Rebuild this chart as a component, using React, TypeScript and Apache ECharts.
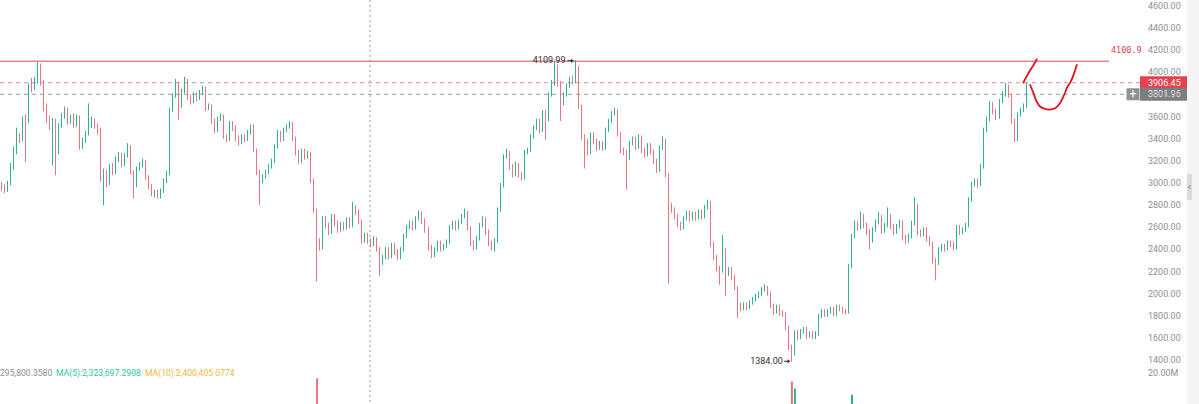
import React, { useEffect, useRef } from "react";
import * as echarts from "echarts";

// Each candle: [open, close, low, high]
const CANDLES: number[][] = [
  [2990, 2960, 2930, 3010], [2960, 2940, 2910, 2990], [2940, 3000, 2920, 3020], [3000, 3150, 2980, 3180], [3150, 3300, 3120, 3330],
  [3300, 3420, 3260, 3500], [3420, 3400, 3360, 3450], [3400, 3580, 3380, 3600], [3580, 3560, 3190, 3620], [3560, 3880, 3540, 3900],
  [3880, 3860, 3820, 3950], [3860, 3920, 3840, 3960], [3920, 4060, 3900, 4094], [4060, 3900, 3880, 4080], [3900, 3700, 3650, 3930],
  [3700, 3580, 3540, 3720], [3580, 3520, 3480, 3610], [3520, 3560, 3160, 3590], [3560, 3380, 3070, 3580], [3380, 3520, 3260, 3540],
  [3520, 3600, 3500, 3630], [3600, 3660, 3580, 3690], [3660, 3560, 3530, 3680], [3560, 3600, 3540, 3620], [3600, 3540, 3500, 3630],
  [3540, 3600, 3510, 3620], [3600, 3340, 3300, 3610], [3340, 3380, 3310, 3410], [3380, 3450, 3360, 3470], [3450, 3540, 3430, 3720],
  [3540, 3560, 3500, 3600], [3560, 3520, 3490, 3580], [3520, 3480, 3440, 3540], [3480, 3050, 3010, 3500], [3050, 3100, 2800, 3130],
  [3100, 3000, 2960, 3120], [3000, 3150, 2980, 3170], [3150, 3100, 3070, 3180], [3100, 3220, 3080, 3240], [3220, 3250, 3190, 3280],
  [3250, 3170, 3140, 3270], [3170, 3250, 3150, 3270], [3250, 3330, 3230, 3360], [3330, 3100, 3080, 3340], [3100, 2980, 2860, 3110],
  [2980, 3130, 2960, 3150], [3130, 3160, 3110, 3190], [3160, 3200, 3140, 3220], [3200, 3050, 3030, 3210], [3050, 2970, 2940, 3070],
  [2970, 2900, 2880, 2990], [2900, 2920, 2870, 2940], [2920, 2880, 2860, 2940], [2880, 2930, 2860, 2950], [2930, 3020, 2910, 3040],
  [3020, 3090, 3000, 3110], [3090, 3660, 3070, 3680], [3660, 3790, 3640, 3810], [3790, 3900, 3770, 3940], [3900, 3700, 3570, 3910],
  [3700, 3830, 3680, 3850], [3830, 3930, 3810, 3960], [3930, 3780, 3750, 3940], [3780, 3740, 3710, 3800], [3740, 3800, 3720, 3820],
  [3800, 3770, 3740, 3820], [3770, 3820, 3750, 3840], [3820, 3860, 3800, 3880], [3860, 3680, 3650, 3870], [3680, 3700, 3660, 3720],
  [3700, 3560, 3530, 3710], [3560, 3480, 3450, 3580], [3480, 3580, 3460, 3600], [3580, 3610, 3560, 3630], [3610, 3420, 3400, 3620],
  [3420, 3400, 3370, 3440], [3400, 3540, 3380, 3560], [3540, 3500, 3470, 3560], [3500, 3410, 3380, 3520], [3410, 3370, 3340, 3430],
  [3370, 3420, 3350, 3440], [3420, 3400, 3370, 3440], [3400, 3460, 3380, 3480], [3460, 3520, 3440, 3530], [3520, 3300, 3280, 3530],
  [3300, 3100, 3070, 3310], [3100, 3020, 2800, 3120], [3020, 3060, 3000, 3080], [3060, 3100, 3040, 3120], [3100, 3150, 3080, 3170],
  [3150, 3200, 3130, 3220], [3200, 3330, 3180, 3350], [3330, 3450, 3310, 3480], [3450, 3400, 3370, 3470], [3400, 3480, 3380, 3500],
  [3480, 3510, 3460, 3530], [3510, 3540, 3490, 3560], [3540, 3400, 3380, 3550], [3400, 3280, 3250, 3420], [3280, 3200, 3170, 3300],
  [3200, 3290, 3180, 3310], [3290, 3240, 3210, 3310], [3240, 3270, 3220, 3290], [3270, 3030, 3000, 3280], [3030, 2760, 2730, 3040],
  [2760, 2480, 2110, 2770], [2480, 2420, 2390, 2500], [2420, 2680, 2400, 2700], [2680, 2620, 2590, 2700], [2620, 2560, 2530, 2640],
  [2560, 2700, 2540, 2720], [2700, 2640, 2610, 2720], [2640, 2580, 2550, 2660], [2580, 2630, 2560, 2650], [2630, 2600, 2570, 2650],
  [2600, 2670, 2580, 2690], [2670, 2620, 2590, 2690], [2620, 2780, 2600, 2830], [2780, 2740, 2710, 2800], [2740, 2660, 2630, 2760],
  [2660, 2480, 2450, 2670], [2480, 2530, 2460, 2550], [2530, 2480, 2450, 2550], [2480, 2450, 2420, 2500], [2450, 2500, 2430, 2520],
  [2500, 2410, 2380, 2510], [2410, 2280, 2160, 2420], [2280, 2330, 2260, 2350], [2330, 2400, 2310, 2420], [2400, 2340, 2310, 2420],
  [2340, 2440, 2320, 2460], [2440, 2380, 2350, 2460], [2380, 2330, 2300, 2400], [2330, 2400, 2310, 2420], [2400, 2520, 2380, 2540],
  [2520, 2600, 2500, 2620], [2600, 2640, 2580, 2660], [2640, 2600, 2570, 2660], [2600, 2680, 2580, 2700], [2680, 2720, 2660, 2750],
  [2720, 2660, 2630, 2740], [2660, 2580, 2550, 2680], [2580, 2420, 2390, 2600], [2420, 2350, 2320, 2440], [2350, 2400, 2330, 2420],
  [2400, 2460, 2380, 2480], [2460, 2410, 2380, 2480], [2410, 2430, 2390, 2450], [2430, 2470, 2410, 2490], [2470, 2600, 2450, 2620],
  [2600, 2640, 2580, 2660], [2640, 2600, 2570, 2660], [2600, 2650, 2580, 2670], [2650, 2700, 2630, 2720], [2700, 2740, 2680, 2770],
  [2740, 2600, 2570, 2750], [2600, 2460, 2430, 2610], [2460, 2420, 2390, 2480], [2420, 2500, 2400, 2520], [2500, 2620, 2480, 2640],
  [2620, 2680, 2600, 2700], [2680, 2560, 2530, 2690], [2560, 2460, 2430, 2580], [2460, 2420, 2390, 2480], [2420, 2480, 2380, 2500],
  [2480, 2760, 2460, 2780], [2760, 2980, 2740, 3000], [2980, 3240, 2960, 3260], [3240, 3280, 3220, 3310], [3280, 3150, 3120, 3290],
  [3150, 3080, 3050, 3170], [3080, 3170, 3060, 3190], [3170, 3080, 3050, 3180], [3080, 3050, 3020, 3100], [3050, 3280, 3030, 3300],
  [3280, 3300, 3260, 3320], [3300, 3420, 3280, 3440], [3420, 3500, 3400, 3520], [3500, 3560, 3480, 3580], [3560, 3480, 3450, 3580],
  [3480, 3640, 3460, 3660], [3640, 3580, 3390, 3660], [3580, 3800, 3560, 3820], [3800, 3900, 3780, 3930], [3900, 4050, 3880, 4094],
  [4050, 3900, 3870, 4070], [3900, 3720, 3560, 3920], [3720, 3800, 3700, 3820], [3800, 3880, 3780, 3900], [3880, 3940, 3860, 3960],
  [3940, 3920, 3890, 3970], [3920, 4050, 3900, 4109.99], [4050, 3700, 3670, 4060], [3700, 3420, 3390, 3710], [3420, 3380, 3130, 3440],
  [3380, 3280, 3250, 3400], [3280, 3440, 3260, 3460], [3440, 3380, 3350, 3460], [3380, 3320, 3290, 3400], [3320, 3360, 3300, 3380],
  [3360, 3320, 3290, 3380], [3320, 3480, 3300, 3500], [3480, 3560, 3460, 3580], [3560, 3630, 3540, 3650], [3630, 3660, 3610, 3680],
  [3660, 3450, 3420, 3670], [3450, 3300, 3270, 3460], [3300, 3280, 3250, 3320], [3280, 3230, 2940, 3300], [3230, 3360, 3210, 3380],
  [3360, 3400, 3340, 3420], [3400, 3330, 3300, 3420], [3330, 3420, 3310, 3440], [3420, 3300, 3270, 3430], [3300, 3260, 3230, 3320],
  [3260, 3340, 3240, 3360], [3340, 3290, 3260, 3360], [3290, 3200, 3170, 3300], [3200, 3120, 3090, 3220], [3120, 3320, 3100, 3340],
  [3320, 3390, 3300, 3420], [3390, 3080, 3050, 3400], [3080, 2800, 2090, 3090], [2800, 2760, 2730, 2820], [2760, 2700, 2670, 2780],
  [2700, 2630, 2600, 2720], [2630, 2600, 2570, 2650], [2600, 2680, 2580, 2700], [2680, 2730, 2660, 2750], [2730, 2680, 2650, 2750],
  [2680, 2720, 2660, 2740], [2720, 2690, 2660, 2740], [2690, 2740, 2670, 2760], [2740, 2700, 2670, 2760], [2700, 2780, 2680, 2800],
  [2780, 2830, 2760, 2850], [2830, 2450, 2420, 2840], [2450, 2330, 2300, 2470], [2330, 2230, 2200, 2350], [2230, 2210, 2080, 2250],
  [2210, 2400, 2190, 2530], [2400, 2180, 1980, 2410], [2180, 2220, 2160, 2240], [2220, 2150, 2120, 2240], [2150, 2060, 2030, 2170],
  [2060, 1900, 1780, 2070], [1900, 1870, 1840, 1920], [1870, 1900, 1850, 1920], [1900, 1880, 1850, 1920], [1880, 1920, 1860, 1940],
  [1920, 1950, 1900, 1970], [1950, 1980, 1930, 2000], [1980, 2000, 1960, 2020], [2000, 2040, 1980, 2060], [2040, 2060, 2020, 2080],
  [2060, 2010, 1980, 2070], [2010, 1900, 1870, 2020], [1900, 1840, 1810, 1910], [1840, 1880, 1820, 1900], [1880, 1830, 1800, 1900],
  [1830, 1820, 1790, 1850], [1820, 1700, 1670, 1830], [1700, 1520, 1490, 1710], [1520, 1460, 1384, 1540], [1460, 1650, 1440, 1670],
  [1650, 1610, 1580, 1670], [1610, 1660, 1590, 1680], [1660, 1680, 1640, 1700], [1680, 1620, 1590, 1700], [1620, 1640, 1600, 1660],
  [1640, 1610, 1590, 1660], [1610, 1640, 1590, 1660], [1640, 1800, 1620, 1820], [1800, 1840, 1780, 1860], [1840, 1810, 1790, 1860],
  [1810, 1840, 1790, 1860], [1840, 1860, 1820, 1880], [1860, 1820, 1800, 1880], [1820, 1880, 1800, 1900], [1880, 1860, 1840, 1900],
  [1860, 1840, 1820, 1880], [1840, 1830, 1810, 1860], [1830, 2250, 1820, 2270], [2250, 2520, 2230, 2540], [2520, 2640, 2500, 2660],
  [2640, 2600, 2570, 2660], [2600, 2700, 2580, 2740], [2700, 2620, 2590, 2720], [2620, 2560, 2530, 2640], [2560, 2480, 2400, 2580],
  [2480, 2580, 2460, 2600], [2580, 2650, 2560, 2670], [2650, 2700, 2630, 2740], [2700, 2570, 2540, 2710], [2570, 2620, 2550, 2640],
  [2620, 2700, 2600, 2780], [2700, 2610, 2580, 2720], [2610, 2560, 2530, 2630], [2560, 2610, 2540, 2630], [2610, 2650, 2590, 2670],
  [2650, 2510, 2480, 2660], [2510, 2480, 2450, 2530], [2480, 2520, 2460, 2540], [2520, 2640, 2500, 2660], [2640, 2800, 2620, 2870],
  [2800, 2560, 2530, 2810], [2560, 2540, 2510, 2580], [2540, 2580, 2520, 2600], [2580, 2500, 2470, 2600], [2500, 2460, 2430, 2520],
  [2460, 2300, 2270, 2470], [2300, 2280, 2120, 2320], [2280, 2400, 2260, 2420], [2400, 2430, 2380, 2450], [2430, 2410, 2380, 2450],
  [2410, 2460, 2390, 2480], [2460, 2450, 2420, 2480], [2450, 2420, 2390, 2470], [2420, 2600, 2400, 2620], [2600, 2560, 2530, 2620],
  [2560, 2580, 2540, 2600], [2580, 2620, 2560, 2640], [2620, 2850, 2600, 2870], [2850, 2990, 2830, 3010], [2990, 3020, 2970, 3040],
  [3020, 2990, 2960, 3040], [2990, 3150, 2970, 3170], [3150, 3480, 3130, 3500], [3480, 3580, 3460, 3600], [3580, 3710, 3560, 3740],
  [3710, 3650, 3620, 3730], [3650, 3600, 3570, 3670], [3600, 3740, 3580, 3760], [3740, 3800, 3720, 3830], [3800, 3880, 3780, 3906],
  [3880, 3800, 3770, 3890], [3800, 3560, 3530, 3810], [3560, 3400, 3370, 3580], [3400, 3620, 3380, 3640], [3620, 3660, 3600, 3680],
  [3660, 3700, 3640, 3720], [3700, 3906.45, 3680, 3906.45],
];

// Volume per candle, in millions
const VOLUMES_M: number[] = [
  3.2, 2.9, 3.1, 4.0, 4.6, 5.1, 3.8, 4.4, 5.6, 6.2, 5.0, 4.1, 6.0, 5.8, 5.2, 4.3, 3.9, 4.8, 5.5, 4.0,
  3.6, 3.9, 3.4, 3.1, 3.3, 3.0, 4.7, 3.5, 3.2, 4.1, 3.6, 3.0, 2.9, 6.8, 5.4, 4.2, 3.9, 3.1, 3.4, 3.0,
  2.8, 2.9, 3.3, 4.1, 4.5, 3.6, 2.9, 2.8, 3.4, 3.1, 3.0, 2.6, 2.5, 2.7, 3.0, 3.2, 8.1, 6.3, 5.5, 5.9,
  4.2, 4.8, 4.0, 3.3, 3.1, 2.9, 3.0, 3.4, 4.2, 3.1, 3.6, 3.8, 3.0, 2.8, 4.1, 3.2, 3.3, 2.9, 3.1, 2.8,
  2.7, 2.6, 2.8, 3.0, 4.4, 5.2, 5.8, 3.9, 3.3, 3.1, 3.2, 3.8, 4.3, 3.4, 3.2, 3.0, 3.3, 3.9, 3.7, 3.5,
  3.0, 2.8, 2.7, 5.1, 7.9, 18.3, 7.2, 6.0, 4.4, 3.9, 4.1, 3.5, 3.2, 2.9, 2.8, 3.0, 2.7, 3.6, 3.1, 2.9,
  4.3, 3.4, 3.0, 2.9, 2.8, 3.1, 4.6, 3.5, 3.2, 2.9, 3.0, 2.8, 2.7, 2.9, 3.6, 3.9, 3.3, 2.9, 3.2, 3.4,
  3.0, 3.3, 4.5, 3.9, 3.1, 3.0, 2.8, 2.6, 2.9, 3.7, 3.3, 2.9, 3.0, 3.2, 3.4, 3.6, 4.0, 3.2, 2.9, 3.5,
  3.4, 3.3, 3.6, 3.0, 3.1, 5.8, 6.9, 7.4, 6.1, 4.9, 4.2, 3.9, 3.7, 3.4, 4.8, 3.9, 4.3, 4.6, 4.4, 4.0,
  4.9, 5.3, 6.2, 5.8, 6.6, 5.9, 6.1, 4.8, 4.2, 4.0, 3.8, 6.0, 6.4, 5.7, 5.2, 4.4, 4.1, 3.6, 3.3, 3.0,
  2.9, 3.8, 3.9, 3.7, 3.6, 4.6, 4.4, 3.2, 4.8, 3.5, 3.1, 2.9, 3.0, 3.2, 2.9, 2.8, 2.7, 3.1, 3.4, 3.6,
  3.3, 5.6, 8.4, 4.9, 3.8, 3.5, 3.1, 2.9, 2.8, 2.6, 2.5, 2.4, 2.6, 2.5, 2.8, 3.0, 6.8, 5.1, 4.6, 4.9,
  5.5, 6.2, 3.9, 3.4, 3.8, 5.7, 4.0, 3.1, 2.8, 2.6, 2.7, 2.9, 2.8, 3.0, 3.1, 2.8, 3.6, 3.3, 2.9, 2.7,
  2.8, 4.5, 7.9, 17.3, 15.0, 6.1, 4.8, 4.2, 3.9, 3.4, 3.1, 3.0, 5.4, 4.6, 3.7, 3.3, 3.1, 2.9, 3.2, 3.0,
  2.8, 2.7, 8.6, 13.0, 8.8, 6.2, 5.7, 4.9, 4.3, 4.6, 4.1, 3.9, 4.2, 4.0, 3.6, 4.4, 3.8, 3.4, 3.2, 3.5,
  3.7, 3.3, 3.1, 3.9, 5.2, 4.6, 3.5, 3.2, 3.4, 3.3, 4.8, 5.0, 4.1, 3.6, 3.3, 3.2, 3.0, 3.1, 4.4, 3.7,
  3.4, 3.6, 5.9, 6.6, 5.2, 4.5, 5.8, 8.3, 7.6, 7.1, 6.3, 5.8, 5.5, 5.9, 6.2, 5.4, 6.7, 7.0, 5.8, 4.9,
  4.6, 6.9,
];

// x slots (candles plus the empty space to the right)
const SLOT_COUNT = 380;
const CATEGORIES: string[] = Array.from({ length: SLOT_COUNT }, (_, i) => `${i + 1}`);

const PRICE_MIN = 1400;
const PRICE_MAX = 4600;
const PRICE_STEP = 200;
// only the top of the volume pane is inside the window
const VOLUME_MIN_M = 10;
const VOLUME_MAX_M = 20;

const LEVEL_LINE = 4100.98;
const LEVEL_LINE_LABEL = "4100.9";
const LAST_PRICE = 3906.45;
const CROSS_PRICE = 3801.96;
const CROSS_SLOT = 122.6;

const VOL_LEGEND = ["295,800.3580", "MA(5):2,323,697.2908", "MA(10):2,400,405.0774"];

// Hand drawn marks, as [slot, price]
const SKETCH_A: number[][] = [[340.0, 3907], [341.7, 3992], [343.4, 4067], [344.5, 4119]];
const SKETCH_B: number[][] = [
  [342.3, 3886], [343.4, 3811], [344.3, 3744], [345.4, 3696], [346.9, 3672], [348.7, 3663],
  [350.6, 3675], [352.2, 3720], [353.6, 3796], [354.7, 3871], [355.8, 3916], [356.9, 3992], [357.8, 4067],
];

const UP = "#2bb58f";
const DOWN = "#ec7480";
const FONT = "Roboto, 'Noto Sans', sans-serif";

export default function App() {
  const ref = useRef<HTMLDivElement>(null);

  useEffect(() => {
    if (!ref.current) return;
    const chart = echarts.init(ref.current, null, { renderer: "svg" });

    const volumeData = VOLUMES_M.map((v, i) => ({
      value: v,
      itemStyle: { color: CANDLES[i][1] >= CANDLES[i][0] ? UP : DOWN },
    }));

    chart.setOption({
      animation: false,
      backgroundColor: "#ffffff",
      grid: [
        { left: 0, right: 57, top: 6, height: 354 },
        { left: 0, right: 57, top: 373, bottom: 0 },
      ],
      xAxis: [
        { type: "category", data: CATEGORIES, gridIndex: 0, show: false },
        { type: "category", data: CATEGORIES, gridIndex: 1, show: false },
      ],
      yAxis: [
        {
          type: "value",
          gridIndex: 0,
          position: "right",
          min: PRICE_MIN,
          max: PRICE_MAX,
          interval: PRICE_STEP,
          axisLine: { show: false },
          axisTick: { show: false },
          splitLine: { show: false },
          axisLabel: {
            color: "#8f8f8f",
            fontSize: 9,
            fontFamily: FONT,
            margin: 6,
            formatter: (v: number) => v.toFixed(2),
          },
        },
        {
          type: "value",
          gridIndex: 1,
          position: "right",
          min: VOLUME_MIN_M,
          max: VOLUME_MAX_M,
          interval: VOLUME_MAX_M - VOLUME_MIN_M,
          axisLine: { show: false },
          axisTick: { show: false },
          splitLine: { show: false },
          axisLabel: {
            color: "#8f8f8f",
            fontSize: 9,
            fontFamily: FONT,
            margin: 6,
            formatter: (v: number) => (v === VOLUME_MAX_M ? `${v.toFixed(2)}M` : ""),
          },
        },
      ],
      series: [
        {
          type: "candlestick",
          xAxisIndex: 0,
          yAxisIndex: 0,
          data: CANDLES,
          barWidth: 1,
          clip: false,
          itemStyle: {
            color: UP,
            color0: DOWN,
            borderColor: UP,
            borderColor0: DOWN,
            borderWidth: 1,
          },
        },
        {
          type: "bar",
          xAxisIndex: 1,
          yAxisIndex: 1,
          data: volumeData,
          barWidth: 2,
          clip: true,
        },
      ],
    });

    const x0 = chart.convertToPixel({ xAxisIndex: 0 }, 0) as number;
    const x1 = chart.convertToPixel({ xAxisIndex: 0 }, 1) as number;
    const xPix = (slot: number) => x0 + (x1 - x0) * slot;
    const yPix = (price: number) => chart.convertToPixel({ yAxisIndex: 0 }, price) as number;

    let hiIdx = 0;
    let loIdx = 0;
    CANDLES.forEach((c, i) => {
      if (c[3] > CANDLES[hiIdx][3]) hiIdx = i;
      if (c[2] < CANDLES[loIdx][2]) loIdx = i;
    });
    const hiX = xPix(hiIdx);
    const hiY = yPix(CANDLES[hiIdx][3]);
    const loX = xPix(loIdx);
    const loY = yPix(CANDLES[loIdx][2]);

    const yLevel = yPix(LEVEL_LINE);
    const yLast = yPix(LAST_PRICE);
    const yCross = yPix(CROSS_PRICE);
    const xCross = xPix(CROSS_SLOT);

    const arrow = (x: number, y: number) => [
      {
        type: "line",
        silent: true,
        shape: { x1: x - 8, y1: y, x2: x - 3, y2: y },
        style: { stroke: "#333", lineWidth: 1 },
      },
      {
        type: "polygon",
        silent: true,
        shape: { points: [[x - 1.5, y], [x - 4.5, y - 2], [x - 4.5, y + 2]] },
        style: { fill: "#333" },
      },
    ];

    const toPts = (pts: number[][]) => pts.map((p) => [xPix(p[0]), yPix(p[1])]);
    const legendFont = `8.6px ${FONT}`;

    const elements: any[] = [
      // right edge strip
      { type: "rect", silent: true, shape: { x: 1187, y: 0, width: 12, height: 404 }, style: { fill: "#f5f5f5" } },
      { type: "rect", silent: true, shape: { x: 1187, y: 174, width: 5, height: 26 }, style: { fill: "#dcdcdc" } },
      {
        type: "polyline",
        silent: true,
        shape: { points: [[1190.5, 185], [1188.5, 187], [1190.5, 189]] },
        style: { stroke: "#666", lineWidth: 0.8, fill: "none" },
      },
      // level line
      {
        type: "line",
        silent: true,
        shape: { x1: 0, y1: yLevel, x2: 1109, y2: yLevel },
        style: { stroke: "#e8848e", lineWidth: 1.5 },
      },
      {
        type: "text",
        silent: true,
        style: {
          text: LEVEL_LINE_LABEL,
          x: 1111,
          y: yLevel - 11,
          fill: "#e0404f",
          font: "8.5px 'DejaVu Sans Mono', monospace",
          align: "left",
          verticalAlign: "middle",
        },
      },
      // last price line & box
      {
        type: "line",
        silent: true,
        shape: { x1: 0, y1: yLast, x2: 1140, y2: yLast },
        style: { stroke: "#e58a93", lineWidth: 1, lineDash: [4, 4] },
      },
      { type: "rect", silent: true, shape: { x: 1140, y: yLast - 6.5, width: 47, height: 13 }, style: { fill: "#e5414f" } },
      {
        type: "text",
        silent: true,
        style: {
          text: LAST_PRICE.toFixed(2),
          x: 1148,
          y: yLast,
          fill: "#ffffff",
          font: `9px ${FONT}`,
          align: "left",
          verticalAlign: "middle",
        },
      },
      // crosshair
      {
        type: "line",
        silent: true,
        shape: { x1: 0, y1: yCross, x2: 1126, y2: yCross },
        style: { stroke: "#9a9a9a", lineWidth: 1, lineDash: [4, 4] },
      },
      {
        type: "line",
        silent: true,
        shape: { x1: xCross, y1: 0, x2: xCross, y2: 404 },
        style: { stroke: "#9a9a9a", lineWidth: 1, lineDash: [2, 3] },
      },
      { type: "rect", silent: true, shape: { x: 1140, y: yCross - 6.5, width: 47, height: 13 }, style: { fill: "#7b7e83" } },
      {
        type: "text",
        silent: true,
        style: {
          text: CROSS_PRICE.toFixed(2),
          x: 1148,
          y: yCross,
          fill: "#ffffff",
          font: `9px ${FONT}`,
          align: "left",
          verticalAlign: "middle",
        },
      },
      { type: "rect", silent: true, shape: { x: 1126.5, y: yCross - 6, width: 13, height: 12 }, style: { fill: "#8e9196" } },
      {
        type: "text",
        silent: true,
        style: {
          text: "+",
          x: 1133,
          y: yCross,
          fill: "#ffffff",
          font: `12px ${FONT}`,
          align: "center",
          verticalAlign: "middle",
        },
      },
      // max / min annotations
      {
        type: "text",
        silent: true,
        style: {
          text: CANDLES[hiIdx][3].toFixed(2),
          x: hiX - 10,
          y: hiY,
          fill: "#333333",
          font: `9px ${FONT}`,
          align: "right",
          verticalAlign: "middle",
        },
      },
      ...arrow(hiX, hiY + 0.5),
      {
        type: "text",
        silent: true,
        style: {
          text: CANDLES[loIdx][2].toFixed(2),
          x: loX - 9,
          y: loY - 0.5,
          fill: "#333333",
          font: `9px ${FONT}`,
          align: "right",
          verticalAlign: "middle",
        },
      },
      ...arrow(loX, loY - 0.5),
      // volume legend
      {
        type: "text",
        silent: true,
        style: { text: VOL_LEGEND[0], x: 0, y: 373, fill: "#8c8c8c", font: legendFont, align: "left", verticalAlign: "middle" },
      },
      {
        type: "text",
        silent: true,
        style: { text: VOL_LEGEND[1], x: 56, y: 373, fill: "#30c3a6", font: legendFont, align: "left", verticalAlign: "middle" },
      },
      {
        type: "text",
        silent: true,
        style: { text: VOL_LEGEND[2], x: 145, y: 373, fill: "#f1b53a", font: legendFont, align: "left", verticalAlign: "middle" },
      },
      // hand drawn marks
      {
        type: "polyline",
        silent: true,
        shape: { points: toPts(SKETCH_A), smooth: 0.3 },
        style: { stroke: "#e0141e", lineWidth: 1.8, fill: "none", lineCap: "round" },
      },
      {
        type: "polyline",
        silent: true,
        shape: { points: toPts(SKETCH_B), smooth: 0.3 },
        style: { stroke: "#e0141e", lineWidth: 1.8, fill: "none", lineCap: "round" },
      },
    ];

    chart.setOption({ graphic: { elements } });

    return () => {
      chart.dispose();
    };
  }, []);

  return (
    <div
      ref={ref}
      style={{ position: "fixed", left: 0, top: 0, width: 1199, height: 404, background: "#ffffff" }}
    />
  );
}
